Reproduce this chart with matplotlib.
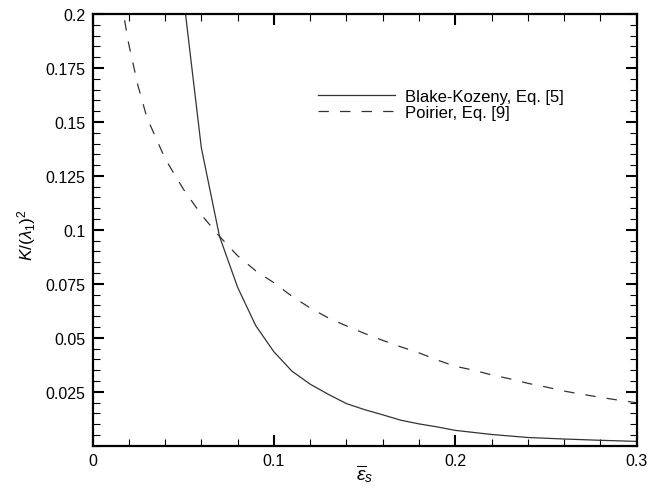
import numpy as np
import matplotlib
matplotlib.use("Agg")
import matplotlib.pyplot as plt
from matplotlib.ticker import MultipleLocator, FixedLocator

plt.rcParams["font.family"] = ["Liberation Sans", "DejaVu Sans"]
plt.rcParams["mathtext.fontset"] = "custom"
plt.rcParams["mathtext.rm"] = "Liberation Sans"
plt.rcParams["mathtext.it"] = "Liberation Sans:italic"
plt.rcParams["lines.scale_dashes"] = False

# Blake-Kozeny, Eq. [5]
bk_x = [0.05, 0.06, 0.07, 0.08, 0.09, 0.10, 0.11, 0.12, 0.13, 0.14, 0.15,
        0.16, 0.17, 0.18, 0.19, 0.20, 0.22, 0.24, 0.26, 0.28, 0.30]
bk_y = [0.209, 0.138, 0.097, 0.0734, 0.0556, 0.0435, 0.0345, 0.0285, 0.0238,
        0.0195, 0.0167, 0.0143, 0.0118, 0.0101, 0.0087, 0.0071, 0.0052,
        0.0038, 0.0031, 0.0025, 0.0020]

# Poirier, Eq. [9]
po_x = [0.015, 0.02, 0.025, 0.03, 0.04, 0.05, 0.06, 0.07, 0.08, 0.09, 0.10,
        0.11, 0.12, 0.13, 0.14, 0.15, 0.16, 0.17, 0.18, 0.19, 0.20, 0.21,
        0.22, 0.23, 0.24, 0.25, 0.26, 0.27, 0.28, 0.29, 0.30]
po_y = [0.210, 0.186, 0.167, 0.152, 0.133, 0.119, 0.107, 0.097, 0.088, 0.081,
        0.0755, 0.0692, 0.0638, 0.0592, 0.0555, 0.0520, 0.0488, 0.0458,
        0.0430, 0.0397, 0.0368, 0.0350, 0.0328, 0.0310, 0.0289, 0.0272,
        0.0253, 0.0238, 0.0224, 0.0211, 0.0199]

fig = plt.figure(figsize=(6.55, 4.89), dpi=100)
ax = fig.add_axes([92.5 / 655, 1 - 446.7 / 489, (636.7 - 92.5) / 655, (446.7 - 15) / 489])

ax.plot(bk_x, bk_y, color="#333333", lw=0.9, label="Blake-Kozeny, Eq. [5]")
ax.plot(po_x, po_y, color="#333333", lw=0.9, dashes=(7.5, 8), label="Poirier, Eq. [9]")

ax.set_xlim(0, 0.3)
ax.set_ylim(0, 0.2)
ax.xaxis.set_major_locator(FixedLocator([0, 0.1, 0.2, 0.3]))
ax.xaxis.set_minor_locator(MultipleLocator(0.02))
ax.yaxis.set_major_locator(FixedLocator([0.025, 0.05, 0.075, 0.1, 0.125, 0.15, 0.175, 0.2]))
ax.yaxis.set_minor_locator(MultipleLocator(0.005))
ax.set_xticklabels(["0", "0.1", "0.2", "0.3"])
ax.set_yticklabels(["0.025", "0.05", "0.075", "0.1", "0.125", "0.15", "0.175", "0.2"])

ax.tick_params(which="both", direction="in", top=True, right=True, labelsize=11.5, pad=5)
ax.tick_params(which="major", length=8, width=1.5)
ax.tick_params(which="minor", length=5, width=0.8)
for s in ax.spines.values():
    s.set_linewidth(1.6)

ax.set_xlabel(r"$\overline{\varepsilon}_s$", fontsize=14, va="center")
ax.xaxis.set_label_coords(0.5, -0.064)
ax.set_ylabel(r"$K/(\lambda_1)^2$", fontsize=12.5)
ax.yaxis.set_label_coords(-0.1, 0.49)

ax.legend(loc="upper left", bbox_to_anchor=(318 / 655, 1 - 90 / 489),
          bbox_transform=fig.transFigure, frameon=False, fontsize=12,
          handlelength=4.6, handletextpad=0.6, labelspacing=0.05,
          borderpad=0, borderaxespad=0)

plt.savefig("out.png", dpi=100)
